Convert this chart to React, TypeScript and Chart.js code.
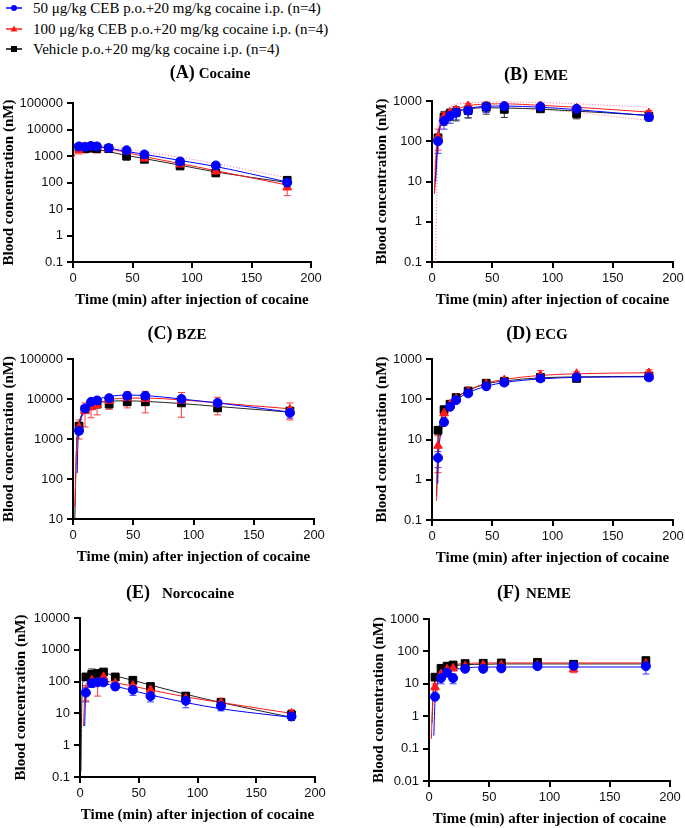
import React, { useEffect, useRef } from "react";
import { Chart, registerables } from "chart.js";
Chart.register(...registerables);

// ---------- DATA ----------
const TIMES = [5, 10, 15, 20, 30, 45, 60, 90, 120, 180];
const X_TICKS = [0, 50, 100, 150, 200];
const LEGEND_LABELS = [
  "50 \u03bcg/kg CEB p.o.+20 mg/kg cocaine i.p. (n=4)",
  "100 \u03bcg/kg CEB p.o.+20 mg/kg cocaine i.p. (n=4)",
  "Vehicle p.o.+20 mg/kg cocaine i.p. (n=4)",
];
const X_TITLE = "Time (min) after injection of cocaine";
const Y_TITLE = "Blood concentration (nM)";

// (A) Cocaine
const a50 = [2300, 2200, 2400, 2300, 2000, 1650, 1150, 620, 440, 100];
const a50sd = [400, 400, 500, 500, 400, 400, 200, 150, 80, 40];
const a100 = [1700, 2200, 2300, 2200, 1850, 1500, 800, 480, 260, 65];
const a100sd = [500, 900, 900, 900, 500, 400, 150, 100, 50, 33];
const aVeh = [2100, 1900, 2000, 1900, 1900, 1000, 750, 420, 230, 120];
const aVehsd = [300, 300, 300, 300, 300, 300, 150, 80, 50, 50];
const aFit50 = [[0, 2500], [10, 2450], [20, 2300], [45, 1500], [90, 680], [120, 400], [180, 105]];
const aFit100 = [[0, 800], [3, 1500], [5, 1800], [10, 2200], [20, 2200], [30, 1900], [60, 950], [90, 520], [120, 280], [180, 80]];
const aFitVeh = [[0, 2300], [10, 2100], [20, 1800], [45, 1050], [60, 800], [90, 450], [120, 250], [180, 100]];
const aBandHi = [[20, 2600], [60, 1450], [120, 520], [180, 150]];

// (B) EME
const b50 = [100, 320, 430, 510, 580, 720, 740, 720, 640, 400];
const b50sd = [50, 120, 150, 170, 200, 200, 150, 100, 100, 80];
const b100 = [130, 420, 520, 600, 760, 800, 820, 780, 660, 500];
const b100sd = [70, 100, 100, 120, 100, 120, 80, 100, 80, 80];
const bVeh = [120, 400, 480, 520, 580, 700, 620, 640, 480, 420];
const bVehsd = [30, 150, 150, 200, 200, 230, 230, 80, 120, 100];
const bFit50 = [[3, 10], [5, 100], [10, 330], [20, 530], [30, 650], [45, 740], [60, 750], [90, 700], [120, 610], [180, 430]];
const bFit100 = [[2, 5], [3, 30], [5, 150], [10, 420], [20, 620], [30, 760], [45, 840], [60, 850], [90, 780], [120, 700], [180, 530]];
const bFitVeh = [[2, 5], [5, 120], [10, 380], [20, 550], [30, 640], [45, 680], [60, 670], [90, 630], [120, 560], [180, 440]];
const bBandLo = [[3, 0.1], [4, 5], [5, 80], [10, 300], [20, 500], [45, 700], [90, 620], [180, 330]];
const bBandHi = [[2, 20], [5, 250], [10, 550], [30, 900], [60, 950], [120, 850], [180, 700]];

// (C) BZE
const c50 = [1600, 5800, 8500, 9200, 10500, 12000, 12000, 10000, 8000, 4500];
const c50sd = [300, 800, 1000, 1000, 1500, 2000, 2000, 2000, 1500, 1200];
const c100 = [2000, 5000, 6200, 7000, 9000, 10500, 10000, 9000, 7500, 5500];
const c100sd = [1000, 3000, 2800, 3000, 3500, 4500, 5500, 5500, 3500, 2500];
const cVeh = [2100, 5500, 7000, 7500, 7500, 8500, 8500, 8000, 6000, 5000];
const cVehsd = [400, 700, 1000, 1500, 1500, 1500, 1500, 1000, 1000, 1000];
const cFit50 = [[3.5, 140], [4, 700], [5, 1700], [10, 5500], [20, 9500], [30, 11500], [45, 12500], [60, 12200], [90, 10000], [120, 8000], [180, 4700]];
const cFit100 = [[1.5, 20], [3, 600], [5, 2000], [10, 4800], [20, 7500], [30, 9500], [45, 10500], [60, 10500], [90, 9500], [120, 8000], [180, 5700]];
const cFitVeh = [[1.5, 10], [3, 800], [5, 2500], [10, 5200], [20, 7800], [30, 8800], [45, 9000], [60, 8700], [90, 7700], [120, 6500], [180, 4700]];

// (D) ECG
const d50 = [3.5, 27, 65, 95, 140, 210, 260, 330, 350, 350];
const d50sd = [1.5, 4, 8, 10, 15, 20, 25, 30, 30, 30];
const d100 = [7, 45, 75, 105, 160, 240, 300, 400, 430, 450];
const d100sd = [5.5, 10, 10, 15, 20, 25, 30, 120, 50, 90];
const dVeh = [17, 55, 75, 110, 160, 250, 280, 350, 330, 380];
const dVehsd = [3, 8, 8, 10, 15, 20, 25, 30, 30, 40];
const dFit50 = [[4.8, 0.8], [5, 2], [6, 7], [7.5, 15], [10, 30], [15, 65], [20, 95], [30, 145], [45, 210], [60, 260], [90, 320], [120, 350], [180, 360]];
const dFit100 = [[3.8, 0.3], [4.5, 2], [5, 5], [7, 20], [10, 45], [15, 75], [20, 105], [30, 165], [45, 250], [60, 310], [90, 390], [120, 430], [180, 455]];
const dFitVeh = [[3.8, 0.4], [4.5, 4], [5, 10], [7, 28], [10, 50], [15, 80], [20, 110], [30, 165], [45, 240], [60, 285], [90, 340], [120, 360], [180, 370]];

// (E) Norcocaine
const e50 = [45, 90, 95, 95, 70, 55, 35, 25, 17, 8];
const e50sd = [22, 25, 20, 15, 15, 18, 12, 10, 5, 2];
const e100 = [50, 110, 95, 140, 90, 75, 55, 30, 22, 10];
const e100sd = [25, 40, 60, 30, 20, 20, 15, 8, 8, 3];
const eVeh = [140, 170, 180, 200, 140, 110, 70, 35, 22, 9];
const eVehsd = [30, 80, 40, 30, 20, 15, 10, 10, 7, 3];
const eFit50 = [[4, 4], [4.5, 20], [5, 45], [10, 85], [20, 85], [30, 72], [45, 52], [60, 38], [90, 22], [120, 14], [180, 7.5]];
const eFit100 = [[3, 4], [4, 40], [5, 80], [10, 110], [20, 105], [30, 92], [45, 72], [60, 55], [90, 33], [120, 22], [180, 10]];
const eFitVeh = [[0.8, 0.15], [1.5, 20], [3, 120], [5, 160], [10, 185], [20, 185], [30, 150], [45, 110], [60, 78], [90, 40], [120, 22], [180, 7.5]];

// (F) NEME
const f50 = [4, 15, 22, 15, 29, 29, 30, 35, 36, 35];
const f50sd = [0.5, 5, 4, 5, 3, 3, 5, 4, 5, 15];
const f100 = [8, 20, 28, 30, 35, 38, 38, 38, 28, 42];
const f100sd = [2, 5, 5, 5, 5, 5, 5, 5, 6, 8];
const fVeh = [16, 30, 35, 38, 42, 43, 44, 46, 40, 52];
const fVehsd = [3, 8, 5, 5, 5, 5, 5, 5, 5, 8];
const fFit50 = [[4, 0.25], [5, 3], [7, 10], [10, 17], [15, 24], [20, 27], [30, 31], [45, 33], [60, 33], [180, 33]];
const fFit100 = [[2, 0.2], [3, 3], [4, 8], [5, 13], [10, 28], [15, 35], [20, 39], [30, 42], [45, 44], [60, 44], [180, 44]];
const fFitVeh = [[2.5, 0.6], [3.5, 5], [5, 14], [10, 27], [15, 33], [20, 36], [30, 39], [45, 40], [60, 41], [180, 41]];

// ---------- STYLE ----------
const BLUE = "#0000ff";
const RED = "#ff1a1a";
const BLACK = "#000000";
const SERIF = "'Liberation Serif', 'Times New Roman', serif";
const SANS = "'Liberation Sans', Arial, sans-serif";

type Series = { mean: number[]; sd: number[]; fit: number[][] };
type PanelDef = {
  letter: string;
  name: string;
  gap: number;
  decades: number[];
  area: { l: number; t: number; r: number; b: number };
  yW: number;
  titleX: number;
  titleY: number;
  s50: Series;
  s100: Series;
  sVeh: Series;
  bands: number[][][];
};

const PANELS: PanelDef[] = [
  {
    letter: "(A)", name: "Cocaine", gap: 4, decades: [0.1, 1, 10, 100, 1000, 10000, 100000],
    area: { l: 73, t: 103, r: 311, b: 262 }, yW: 73, titleX: 210, titleY: 72,
    s50: { mean: a50, sd: a50sd, fit: aFit50 }, s100: { mean: a100, sd: a100sd, fit: aFit100 },
    sVeh: { mean: aVeh, sd: aVehsd, fit: aFitVeh }, bands: [aBandHi],
  },
  {
    letter: "(B)", name: "EME", gap: 6, decades: [0.1, 1, 10, 100, 1000],
    area: { l: 432, t: 101, r: 673, b: 262 }, yW: 59, titleX: 536, titleY: 74,
    s50: { mean: b50, sd: b50sd, fit: bFit50 }, s100: { mean: b100, sd: b100sd, fit: bFit100 },
    sVeh: { mean: bVeh, sd: bVehsd, fit: bFitVeh }, bands: [bBandLo, bBandHi],
  },
  {
    letter: "(C)", name: "BZE", gap: 4, decades: [10, 100, 1000, 10000, 100000],
    area: { l: 73, t: 359, r: 314, b: 519 }, yW: 73, titleX: 177, titleY: 333,
    s50: { mean: c50, sd: c50sd, fit: cFit50 }, s100: { mean: c100, sd: c100sd, fit: cFit100 },
    sVeh: { mean: cVeh, sd: cVehsd, fit: cFitVeh }, bands: [],
  },
  {
    letter: "(D)", name: "ECG", gap: 4, decades: [0.1, 1, 10, 100, 1000],
    area: { l: 432, t: 359, r: 673, b: 520 }, yW: 59, titleX: 537, titleY: 333,
    s50: { mean: d50, sd: d50sd, fit: dFit50 }, s100: { mean: d100, sd: d100sd, fit: dFit100 },
    sVeh: { mean: dVeh, sd: dVehsd, fit: dFitVeh }, bands: [],
  },
  {
    letter: "(E)", name: "Norcocaine", gap: 12, decades: [0.1, 1, 10, 100, 1000, 10000],
    area: { l: 80, t: 618, r: 315, b: 777 }, yW: 68, titleX: 180, titleY: 592,
    s50: { mean: e50, sd: e50sd, fit: eFit50 }, s100: { mean: e100, sd: e100sd, fit: eFit100 },
    sVeh: { mean: eVeh, sd: eVehsd, fit: eFitVeh }, bands: [],
  },
  {
    letter: "(F)", name: "NEME", gap: 6, decades: [0.01, 0.1, 1, 10, 100, 1000],
    area: { l: 429, t: 619, r: 670, b: 781 }, yW: 59, titleX: 534, titleY: 592,
    s50: { mean: f50, sd: f50sd, fit: fFit50 }, s100: { mean: f100, sd: f100sd, fit: fFit100 },
    sVeh: { mean: fVeh, sd: fVehsd, fit: fFitVeh }, bands: [],
  },
];

const PAD_TOP = 45;
const PAD_RIGHT = 15;
const X_H = 47;

const errorBarPlugin = {
  id: "errbars",
  beforeDatasetsDraw(chart: any) {
    const ctx = chart.ctx;
    const ys = chart.scales.y;
    const area = chart.chartArea;
    ctx.save();
    ctx.beginPath();
    ctx.rect(area.left - 10, area.top, area.right - area.left + 20, area.bottom - area.top);
    ctx.clip();
    chart.data.datasets.forEach((ds: any, i: number) => {
      if (!ds.sd) return;
      const meta = chart.getDatasetMeta(i);
      ctx.strokeStyle = ds.errColor;
      ctx.lineWidth = 1;
      meta.data.forEach((pt: any, j: number) => {
        const m = ds.data[j].y;
        const s = ds.sd[j];
        const yTop = ys.getPixelForValue(m + s);
        const yBot = m - s > 0 ? ys.getPixelForValue(m - s) : area.bottom;
        const x = pt.x;
        ctx.beginPath();
        ctx.moveTo(x, yTop);
        ctx.lineTo(x, yBot);
        ctx.moveTo(x - 3.5, yTop);
        ctx.lineTo(x + 3.5, yTop);
        if (m - s > 0) {
          ctx.moveTo(x - 3.5, yBot);
          ctx.lineTo(x + 3.5, yBot);
        }
        ctx.stroke();
      });
    });
    ctx.restore();
  },
};

function pts(means: number[]) {
  return TIMES.map((t, i) => ({ x: t, y: means[i] }));
}
function pairs(arr: number[][]) {
  return arr.map(([x, y]) => ({ x, y }));
}

function Panel({ p }: { p: PanelDef }) {
  const ref = useRef<HTMLCanvasElement>(null);
  const left = p.area.l - p.yW;
  const top = p.area.t - PAD_TOP;
  const width = p.yW + (p.area.r - p.area.l) + PAD_RIGHT;
  const height = PAD_TOP + (p.area.b - p.area.t) + X_H;

  useEffect(() => {
    if (!ref.current) return;
    const pointDs = (s: Series, color: string, errColor: string, style: string, r: number) => ({
      data: pts(s.mean),
      sd: s.sd,
      errColor,
      showLine: false,
      pointStyle: style,
      pointRadius: r,
      pointBackgroundColor: color,
      pointBorderColor: color,
      pointBorderWidth: 1,
    });
    const fitDs = (arr: number[][], color: string) => ({
      data: pairs(arr),
      showLine: true,
      borderColor: color,
      borderWidth: 1,
      pointRadius: 0,
      cubicInterpolationMode: "monotone",
      fill: false,
    });
    const bandDs = (arr: number[][]) => ({
      data: pairs(arr),
      showLine: true,
      borderColor: "rgba(255,60,110,0.75)",
      borderWidth: 1,
      borderDash: [1, 2],
      pointRadius: 0,
      cubicInterpolationMode: "monotone",
      fill: false,
    });
    const tickFont = { family: SANS, size: 13 };
    const titleFont = { family: SERIF, size: 15, weight: "bold" as const };
    const chart = new Chart(ref.current, {
      type: "scatter",
      data: {
        datasets: [
          pointDs(p.s50, BLUE, "#3a3aff", "circle", 4.5),
          pointDs(p.s100, RED, "#ff3b3b", "triangle", 5),
          pointDs(p.sVeh, BLACK, "#333333", "rect", 5.5),
          fitDs(p.s50.fit, BLUE),
          fitDs(p.s100.fit, RED),
          fitDs(p.sVeh.fit, "#222222"),
          ...p.bands.map(bandDs),
        ] as any,
      },
      options: {
        animation: false,
        responsive: false,
        maintainAspectRatio: false,
        devicePixelRatio: 1,
        layout: { padding: { top: PAD_TOP, right: PAD_RIGHT, left: 0, bottom: 0 } },
        plugins: { legend: { display: false }, tooltip: { enabled: false } },
        events: [],
        scales: {
          x: {
            type: "linear",
            min: 0,
            max: 200,
            afterBuildTicks: (s: any) => {
              s.ticks = X_TICKS.map((v) => ({ value: v }));
            },
            ticks: { font: tickFont, color: "#111", padding: 3, maxRotation: 0 },
            grid: { drawOnChartArea: false, tickLength: 6, lineWidth: 2, color: "#000" },
            border: { color: "#000", width: 2 },
            title: { display: true, text: X_TITLE, font: titleFont, color: "#000", padding: 0 },
            afterFit: (s: any) => {
              s.height = X_H;
            },
          },
          y: {
            type: "logarithmic",
            min: p.decades[0],
            max: p.decades[p.decades.length - 1],
            afterBuildTicks: (s: any) => {
              s.ticks = p.decades.map((v) => ({ value: v }));
            },
            ticks: { font: tickFont, color: "#111", padding: 4, callback: (v: any) => String(v) },
            grid: { drawOnChartArea: false, tickLength: 6, lineWidth: 2, color: "#000" },
            border: { color: "#000", width: 2 },
            title: { display: true, text: Y_TITLE, font: titleFont, color: "#000", padding: 0 },
            afterFit: (s: any) => {
              s.width = p.yW;
            },
          },
        } as any,
      },
      plugins: [errorBarPlugin],
    });
    return () => chart.destroy();
  }, []);

  return (
    <>
      <canvas
        ref={ref}
        width={width}
        height={height}
        style={{ position: "absolute", left, top, width, height }}
      />
      <div
        style={{
          position: "absolute",
          left: p.titleX,
          top: p.titleY,
          transform: "translate(-50%, -50%)",
          whiteSpace: "nowrap",
          fontFamily: SERIF,
          fontWeight: "bold",
          color: "#000",
          lineHeight: 1,
        }}
      >
        <span style={{ fontSize: 18 }}>{p.letter}</span>
        <span style={{ fontSize: 15, marginLeft: p.gap }}>{p.name}</span>
      </div>
    </>
  );
}

function LegendMarker({ kind, color }: { kind: string; color: string }) {
  return (
    <svg width={24} height={12} style={{ position: "absolute", left: 2, top: -6 }}>
      <line x1={4} y1={6} x2={20} y2={6} stroke={color} strokeWidth={1.5} />
      {kind === "circle" && <circle cx={12} cy={6} r={3} fill={color} />}
      {kind === "triangle" && <polygon points="12,2.5 15.5,8.5 8.5,8.5" fill={color} />}
      {kind === "rect" && <rect x={9} y={3} width={6} height={6} fill={color} />}
    </svg>
  );
}

const LEGEND_ROWS = [
  { kind: "circle", color: BLUE, y: 8 },
  { kind: "triangle", color: RED, y: 29 },
  { kind: "rect", color: BLACK, y: 49 },
];

export default function App() {
  return (
    <div
      style={{
        position: "absolute",
        left: 0,
        top: 0,
        width: 685,
        height: 828,
        background: "#fff",
        overflow: "hidden",
      }}
    >
      {LEGEND_ROWS.map((r, i) => (
        <div key={i} style={{ position: "absolute", left: 0, top: r.y, height: 0 }}>
          <LegendMarker kind={r.kind} color={r.color} />
          <span
            style={{
              position: "absolute",
              left: 33,
              top: -9,
              whiteSpace: "nowrap",
              fontFamily: SERIF,
              fontSize: 15,
              lineHeight: "18px",
              color: "#000",
            }}
          >
            {LEGEND_LABELS[i]}
          </span>
        </div>
      ))}
      {PANELS.map((p) => (
        <Panel key={p.letter} p={p} />
      ))}
    </div>
  );
}
